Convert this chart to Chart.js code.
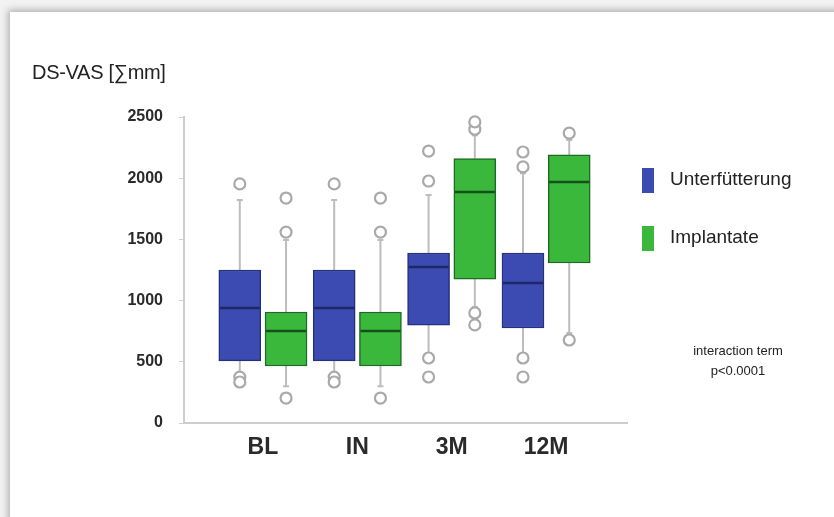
<!DOCTYPE html>
<html>
<head>
<meta charset="utf-8">
<script src="https://cdn.jsdelivr.net/npm/chart.js@4/dist/chart.umd.min.js"></script>
<style>
  html, body { margin: 0; padding: 0; }
  body { width: 834px; height: 517px; overflow: hidden; background: #f2f2f2; position: relative; font-family: "Liberation Sans", Arial, sans-serif; }
  .card { position: absolute; left: 10px; top: 12px; width: 900px; height: 600px; background: #fff; box-shadow: -2px -2px 7px rgba(0,0,0,0.28); }
  #chart { position: absolute; left: 0; top: 0; }
  .ytitle { position: absolute; left: 32px; top: 61px; font-size: 20px; color: #222; letter-spacing: -0.3px; }
  .legend { position: absolute; left: 642px; font-size: 19px; color: #222; }
  .legend span { position: absolute; left: 0; width: 12px; height: 25px; }
  .legend div { position: absolute; left: 28px; white-space: nowrap; }
  .note { position: absolute; left: 668px; top: 341px; width: 140px; text-align: center; font-size: 13px; line-height: 20px; color: #222; }
</style>
</head>
<body>
<div class="card"></div>
<canvas id="chart" width="834" height="517"></canvas>
<div class="ytitle">DS-VAS [∑mm]</div>
<div class="legend" style="top:168px"><span style="background:#3c4bb2"></span><div style="top:0px">Unterfütterung</div></div>
<div class="legend" style="top:226px"><span style="background:#3ab83c"></span><div style="top:0px">Implantate</div></div>
<div class="note">interaction term<br>p&lt;0.0001</div>
<script>
// categories (time points)
const categories = ["BL", "IN", "3M", "12M"];
const yTicks = [0, 500, 1000, 1500, 2000, 2500];

// Unterfütterung (blue)
const unterQ1 = [507, 507, 800, 776];
const unterMedian = [940, 940, 1275, 1144];
const unterQ3 = [1250, 1250, 1389, 1389];
const unterLow = [410, 410, 572, 572];
const unterHigh = [1822, 1822, 1863, 2040];
const unterOutliers = [[1953, 375, 335], [1953, 375, 335], [1977, 2222, 531, 376], [2092, 2214, 531, 376]];

// Implantate (green)
const implQ1 = [466, 466, 1176, 1307];
const implMedian = [752, 752, 1887, 1969];
const implQ3 = [907, 907, 2160, 2190];
const implLow = [300, 300, 948, 735];
const implHigh = [1495, 1495, 2350, 2312];
const implOutliers = [[1560, 1838, 204], [1560, 1838, 204], [2400, 2460, 899, 801], [2369, 678]];

const groups = [
  { label: "Unterfütterung", q1: unterQ1, med: unterMedian, q3: unterQ3, lo: unterLow, hi: unterHigh, out: unterOutliers,
    offset: -0.245, fill: "#3c4bb2", edge: "#26307c", medColor: "#1f2766" },
  { label: "Implantate", q1: implQ1, med: implMedian, q3: implQ3, lo: implLow, hi: implHigh, out: implOutliers,
    offset: 0.245, fill: "#3ab83c", edge: "#1f6a22", medColor: "#14501a" }
];

const BOX_W = 42;

function boxData(g){
  return g.q1.map((v, i) => ({ x: i + 1 + g.offset, y: [v, g.q3[i]] }));
}
function outlierData(g){
  const pts = [];
  g.out.forEach((list, i) => list.forEach(v => pts.push({ x: i + 1 + g.offset, y: v })));
  return pts;
}

// whiskers under the boxes, medians on top
const boxExtras = {
  id: "boxExtras",
  beforeDatasetsDraw(chart){
    const { ctx, scales: { x, y } } = chart;
    ctx.save();
    ctx.strokeStyle = "#bdbdbd";
    ctx.lineWidth = 2;
    groups.forEach(g => g.q1.forEach((_, i) => {
      const cx = x.getPixelForValue(i + 1 + g.offset);
      const segs = [[g.q3[i], g.hi[i]], [g.q1[i], g.lo[i]]];
      segs.forEach(([a, b]) => {
        ctx.beginPath();
        ctx.moveTo(cx, y.getPixelForValue(a));
        ctx.lineTo(cx, y.getPixelForValue(b));
        ctx.stroke();
        ctx.beginPath();
        ctx.moveTo(cx - 3, y.getPixelForValue(b));
        ctx.lineTo(cx + 3, y.getPixelForValue(b));
        ctx.stroke();
      });
    }));
    ctx.restore();
  },
  afterDatasetsDraw(chart){
    const { ctx, scales: { x, y } } = chart;
    ctx.save();
    ctx.lineWidth = 2.5;
    groups.forEach(g => g.med.forEach((m, i) => {
      const cx = x.getPixelForValue(i + 1 + g.offset);
      const py = y.getPixelForValue(m);
      ctx.strokeStyle = g.medColor;
      ctx.beginPath();
      ctx.moveTo(cx - BOX_W / 2 + 1, py);
      ctx.lineTo(cx + BOX_W / 2 - 1, py);
      ctx.stroke();
    }));
    ctx.restore();
  }
};

const datasets = [];
groups.forEach(g => {
  datasets.push({
    type: "bar", label: g.label, data: boxData(g),
    backgroundColor: g.fill, borderColor: g.edge, borderWidth: 1.5, borderSkipped: false,
    barThickness: BOX_W, grouped: false, order: 2
  });
});
groups.forEach(g => {
  datasets.push({
    type: "scatter", label: g.label + " outliers", data: outlierData(g),
    pointRadius: 5.5, pointBorderWidth: 2.2, pointBackgroundColor: "#ffffff",
    pointBorderColor: "#a9a9a9", order: 1, clip: false
  });
});

Chart.defaults.font.family = "'Liberation Sans', Arial, sans-serif";
Chart.defaults.color = "#2a2a2a";

new Chart(document.getElementById("chart"), {
  type: "bar",
  data: { datasets },
  plugins: [boxExtras],
  options: {
    responsive: false,
    animation: false,
    layout: { padding: { left: 124, top: 117, right: 207, bottom: 54 } },
    plugins: { legend: { display: false }, tooltip: { enabled: false } },
    scales: {
      x: {
        type: "linear", min: 0.164, max: 4.857, offset: false,
        afterBuildTicks: axis => { axis.ticks = categories.map((c, i) => ({ value: i + 1 })); },
        afterFit: axis => { axis.height = 40; },
        ticks: { callback: v => categories[v - 1] || "", font: { size: 23, weight: "bold" }, padding: 11, color: "#2a2a2a", maxRotation: 0 },
        grid: { drawOnChartArea: false, drawTicks: false, offset: false },
        border: { display: true, color: "#cdcdcd", width: 2 }
      },
      y: {
        min: 0, max: 2500,
        afterBuildTicks: axis => { axis.ticks = yTicks.map(v => ({ value: v })); },
        afterFit: axis => { axis.width = 60; },
        ticks: { callback: v => String(v), font: { size: 16, weight: "bold" }, padding: 16, color: "#2a2a2a" },
        grid: { drawOnChartArea: false, drawTicks: true, tickLength: 5, color: "#d0d0d0" },
        border: { display: true, color: "#cdcdcd", width: 2 }
      }
    }
  }
});
</script>
</body>
</html>
